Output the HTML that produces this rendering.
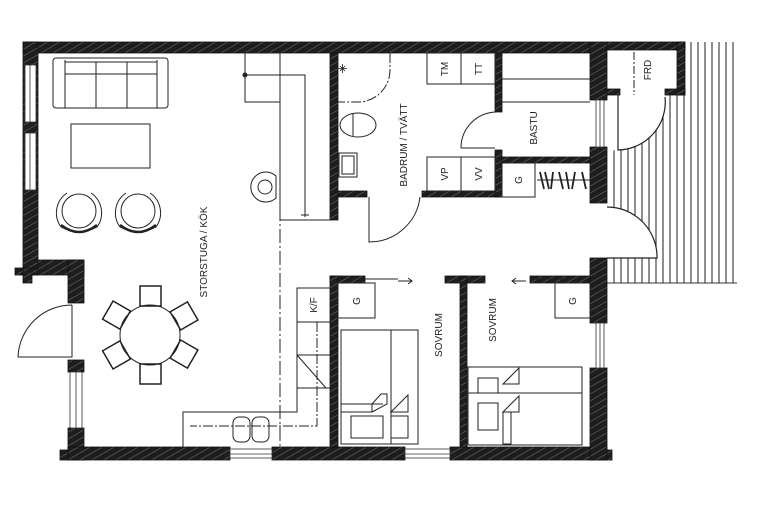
<!DOCTYPE html>
<html><head><meta charset="utf-8"><style>
html,body{margin:0;padding:0;background:#fff}
svg{display:block}
text{font-family:"Liberation Sans",sans-serif;font-size:10px;fill:#222}
</style></head><body>
<svg width="768" height="513" viewBox="0 0 768 513" xmlns="http://www.w3.org/2000/svg">
<defs>
<pattern id="h" width="6" height="6" patternUnits="userSpaceOnUse" patternTransform="rotate(60)">
<rect width="6" height="6" fill="#1e1e1e"/><line x1="0" y1="0" x2="0" y2="6" stroke="#777" stroke-width="1"/>
</pattern>
</defs>
<rect width="768" height="513" fill="#fff"/>
<g stroke="#333" stroke-width="1">
<path d="M607 283H737"/>
</g>
<g stroke="#333" stroke-width="1.1">
<path d="M614 95V283M621 95V283M628 95V283M635 95V283M642 95V283M649 95V283M656 95V283M663 95V283M670 95V283M677 95V283M684 42V283M691 42V283M698 42V283M705 42V283M712 42V283M719 42V283M726 42V283M733 42V283"/>
</g>
<path d="M610 95 V150 A50 50 0 0 0 665 95 Z" fill="#fff"/>
<path d="M607 206 A52 52 0 0 1 657 258 H607 Z" fill="#fff"/>
<g fill="none" stroke="#222" stroke-width="1.2">
<path d="M618 95V150A48 48 0 0 0 665 97"/>
<path d="M607 207A50 50 0 0 1 657 258H607"/>
</g>
<g fill="url(#h)" stroke="#111" stroke-width="0.8">
<rect x="23" y="42" width="567" height="11"/>
<rect x="590" y="42" width="17" height="58"/>
<rect x="607" y="42" width="78" height="8"/>
<rect x="677" y="42" width="8" height="53"/>
<rect x="607" y="89" width="13" height="6"/>
<rect x="665" y="89" width="20" height="6"/>
<rect x="23" y="42" width="15" height="233"/>
<rect x="15" y="268" width="23" height="7"/>
<rect x="23" y="268" width="9" height="15"/>
<rect x="38" y="260" width="46" height="15"/>
<rect x="68" y="260" width="16" height="43"/>
<rect x="68" y="360" width="16" height="12"/>
<rect x="68" y="428" width="16" height="32"/>
<rect x="60" y="450" width="10" height="10"/>
<rect x="68" y="447" width="162" height="13"/>
<rect x="272" y="447" width="133" height="13"/>
<rect x="450" y="447" width="157" height="13"/>
<rect x="604" y="450" width="8" height="10"/>
<rect x="590" y="147" width="17" height="56"/>
<rect x="590" y="258" width="17" height="65"/>
<rect x="590" y="368" width="17" height="92"/>
<rect x="330" y="53" width="8" height="167"/>
<rect x="338" y="191" width="29" height="6"/>
<rect x="422" y="191" width="80" height="6"/>
<rect x="495" y="53" width="7" height="59"/>
<rect x="495" y="150" width="7" height="47"/>
<rect x="502" y="157" width="88" height="6"/>
<rect x="330" y="276" width="35" height="7"/>
<rect x="330" y="276" width="8" height="171"/>
<rect x="445" y="276" width="40" height="7"/>
<rect x="460" y="276" width="7" height="171"/>
<rect x="530" y="276" width="60" height="7"/>
</g>
<g fill="#fff" stroke="#333" stroke-width="0.8">
<rect x="25" y="65" width="11" height="57"/><line x1="30" y1="65" x2="30" y2="122"/>
<rect x="25" y="133" width="11" height="57"/><line x1="30" y1="133" x2="30" y2="190"/>
<rect x="70" y="372" width="12" height="56"/><line x1="76" y1="372" x2="76" y2="428"/>
<rect x="230" y="449" width="42" height="9"/><line x1="230" y1="454" x2="272" y2="454"/>
<rect x="405" y="449" width="45" height="9"/><line x1="405" y1="454" x2="450" y2="454"/>
<rect x="596" y="100" width="8" height="47"/><line x1="600" y1="100" x2="600" y2="147"/>
<rect x="596" y="323" width="8" height="45"/><line x1="600" y1="323" x2="600" y2="368"/>
</g>
<g fill="none" stroke="#222" stroke-width="1">
<path d="M72 305V357H18A54 54 0 0 1 72 305"/>
<path d="M369 197V242A51 51 0 0 0 420 197"/>
<path d="M461 148H495M461 148A36 36 0 0 1 496 112"/>
<path d="M365 279H398M532 279H565"/>
<path d="M398 281H412M408 278l4 3-4 3M512 281H526M516 278l-4 3 4 3"/>
<path d="M390 53V70A32 32 0 0 1 358 102H338" stroke-dasharray="10 2 2 2"/>
<path d="M345 66l-5 5M340 66l5 5M342.5 64V73M338 68.5h9" stroke-width="0.8"/>
<ellipse cx="358" cy="125" rx="18" ry="12"/><line x1="353" y1="114" x2="353" y2="136"/>
<rect x="339" y="153" width="18" height="24"/><rect x="342" y="156" width="12" height="18"/>
<rect x="427" y="53" width="68" height="31"/><line x1="461" y1="53" x2="461" y2="84"/>
<rect x="427" y="157" width="68" height="34"/><line x1="461" y1="157" x2="461" y2="191"/>
<path d="M502 79H590M502 102H590"/>
<rect x="502" y="163" width="33" height="34"/>
<rect x="338" y="283" width="37" height="35"/>
<rect x="555" y="283" width="35" height="35"/>
<path d="M537 180H590" />
<path d="M540 172l4 17M545 172l4 17M553 172l-2 17M559 172l4 17M566 172l3 17M575 172l-3 17M582 172l4 17" stroke-width="1.8"/>
<path d="M634 52V95" stroke-dasharray="8 2 2 2"/>
<rect x="245" y="53" width="35" height="49"/>
<path d="M280 53V220H330"/>
<path d="M245 75H305V217M301 215h8"/>
<circle cx="245" cy="75" r="2" fill="#222"/>
<path d="M280 53V447" stroke-dasharray="14 3 2 3"/>
<path d="M276 176A15 15 0 1 0 276 198V176"/>
<circle cx="265" cy="187" r="7"/>
<path d="M330 288H297V412H183V447M297 322H330M297 355H330M297 388H330M297 355L326 388"/>
<path d="M317 322V426H190" stroke-dasharray="10 2 2 2"/>
<rect x="233" y="417" width="17" height="25" rx="6"/>
<rect x="252" y="417" width="17" height="25" rx="6"/>
<rect x="53" y="58" width="115" height="50" rx="3"/>
<path d="M65 60V108M157 60V108M65 74H157M96 62V108M127 62V108M65 62H157"/>
<rect x="71" y="124" width="79" height="44"/>
<g transform="translate(79 211)"><circle r="17"/><path d="M-12 -18A24 24 0 0 0 -18 16Q0 26 18 16A24 24 0 0 0 12 -18"/><path d="M-18 14Q0 28 18 14" stroke-width="2.5"/></g>
<g transform="translate(138 211)"><circle r="17"/><path d="M-12 -18A24 24 0 0 0 -18 16Q0 26 18 16A24 24 0 0 0 12 -18"/><path d="M-18 14Q0 28 18 14" stroke-width="2.5"/></g>
<circle cx="150" cy="335" r="30"/>
<g stroke-width="1.5">
<rect x="140" y="286" width="21" height="20"/>
<rect x="140" y="364" width="21" height="20"/>
<g transform="rotate(60 150 335)"><rect x="140" y="286" width="21" height="20"/><rect x="140" y="364" width="21" height="20"/></g>
<g transform="rotate(-60 150 335)"><rect x="140" y="286" width="21" height="20"/><rect x="140" y="364" width="21" height="20"/></g>
</g>
<rect x="341" y="330" width="77" height="114"/><line x1="391" y1="330" x2="391" y2="444"/>
<path d="M341 404H383M341 412H372V404M372 404l9-10h6v10l-15 8M391 412l17-17v17Z"/>
<rect x="351" y="416" width="32" height="22"/><rect x="391" y="416" width="17" height="22"/>
<rect x="468" y="367" width="114" height="78"/><line x1="468" y1="393" x2="582" y2="393"/>
<rect x="478" y="378" width="20" height="15"/><path d="M503 384l16-16v16Z"/>
<rect x="478" y="403" width="20" height="27"/><path d="M503 412l16-16v16ZM503 412V444H511V412"/>
</g>
<text transform="translate(207 252) rotate(-90)" text-anchor="middle">STORSTUGA / KÖK</text>
<text transform="translate(407 145) rotate(-90)" text-anchor="middle">BADRUM / TVÄTT</text>
<text transform="translate(537 128) rotate(-90)" text-anchor="middle">BASTU</text>
<text transform="translate(442 335) rotate(-90)" text-anchor="middle">SOVRUM</text>
<text transform="translate(496 320) rotate(-90)" text-anchor="middle">SOVRUM</text>
<text transform="translate(651 70) rotate(-90)" text-anchor="middle">FRD</text>
<text transform="translate(448 69) rotate(-90)" text-anchor="middle">TM</text>
<text transform="translate(482 69) rotate(-90)" text-anchor="middle">TT</text>
<text transform="translate(448 174) rotate(-90)" text-anchor="middle">VP</text>
<text transform="translate(482 174) rotate(-90)" text-anchor="middle">VV</text>
<text transform="translate(522 180) rotate(-90)" text-anchor="middle">G</text>
<text transform="translate(360 301) rotate(-90)" text-anchor="middle">G</text>
<text transform="translate(576 301) rotate(-90)" text-anchor="middle">G</text>
<text transform="translate(317 305) rotate(-90)" text-anchor="middle">K/F</text>
</svg>
</body></html>
